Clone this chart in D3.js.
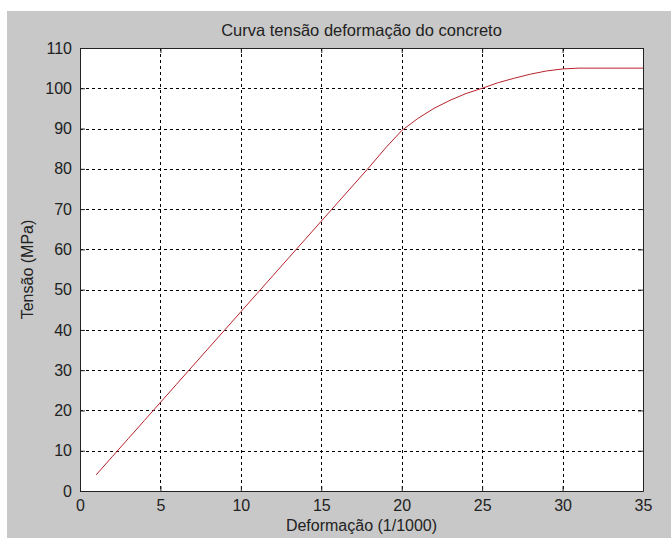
<!DOCTYPE html>
<html>
    <head>
        <meta charset="utf-8"/>
        <script src="https://d3js.org/d3.v7.min.js"></script>
        <style>
            body { margin: 0; background: #fff; }
            text { font-family: "Liberation Sans", Arial, sans-serif; fill: #222; }
        </style>
    </head>
    <body>
        <div id="chart"></div>
        <script type="text/javascript">
            // strain (1/1000) and stress (MPa)
            var deformacao = [1, 2, 3, 4, 5, 6, 7, 8, 9, 10, 11, 12, 13, 14, 15, 16, 17, 18,
                              19, 20, 21, 22, 23, 24, 25, 26, 27, 28, 29, 30, 31, 32, 33, 34, 35];
            var tensao = [4, 8.5, 13, 17.5, 22, 26.5, 31, 35.5, 40, 44.5, 49, 53.5, 58, 62.5, 67, 71.5, 76, 80.5,
                          85.2, 89.5, 92.5, 95, 97, 98.7, 100, 101.4, 102.5, 103.5, 104.3, 104.8, 105, 105, 105, 105, 105];
            var xTicks = [0, 5, 10, 15, 20, 25, 30, 35];
            var yTicks = [0, 10, 20, 30, 40, 50, 60, 70, 80, 90, 100, 110];

            var W = 671, H = 538;
            var mLeft = 80, mRight = 643, mTop = 48, mBottom = 491;
            var fs = 16;

            var svg = d3.select("#chart").append("svg")
                .attr("width", W).attr("height", H);

            // grey figure background
            svg.append("rect")
                .attr("x", 7).attr("y", 11)
                .attr("width", W - 7).attr("height", H - 11)
                .attr("fill", "#c8c8c8");

            svg.append("rect")
                .attr("x", mLeft).attr("y", mTop)
                .attr("width", mRight - mLeft).attr("height", mBottom - mTop)
                .attr("fill", "#fff");

            var x = d3.scaleLinear().domain([0, 35]).range([mLeft, mRight]);
            var y = d3.scaleLinear().domain([0, 110]).range([mBottom, mTop]);

            // grid
            var grid = svg.append("g")
                .attr("stroke", "#000")
                .attr("stroke-width", 1)
                .attr("stroke-dasharray", "3,3");
            grid.selectAll(".gx").data(xTicks.slice(1, -1)).enter().append("line")
                .attr("x1", d => Math.round(x(d)) + 0.5).attr("x2", d => Math.round(x(d)) + 0.5)
                .attr("y1", mTop).attr("y2", mBottom);
            grid.selectAll(".gy").data(yTicks.slice(1, -1)).enter().append("line")
                .attr("y1", d => Math.round(y(d)) + 0.5).attr("y2", d => Math.round(y(d)) + 0.5)
                .attr("x1", mLeft).attr("x2", mRight);

            // axes, ticks pointing inward
            svg.append("g")
                .attr("transform", "translate(0," + mBottom + ")")
                .call(d3.axisBottom(x).tickValues(xTicks).tickSizeInner(-5).tickSizeOuter(0).tickPadding(9));
            svg.append("g")
                .attr("transform", "translate(0," + mTop + ")")
                .call(d3.axisTop(x).tickValues(xTicks).tickSizeInner(-5).tickSizeOuter(0).tickFormat(""));
            svg.append("g")
                .attr("transform", "translate(" + mLeft + ",0)")
                .call(d3.axisLeft(y).tickValues(yTicks).tickSizeInner(-5).tickSizeOuter(0).tickPadding(8));
            svg.append("g")
                .attr("transform", "translate(" + mRight + ",0)")
                .call(d3.axisRight(y).tickValues(yTicks).tickSizeInner(-5).tickSizeOuter(0).tickFormat(""));

            svg.selectAll(".domain").attr("stroke", "#222");
            svg.selectAll(".tick line").attr("stroke", "#222");
            svg.selectAll(".tick text")
                .attr("font-size", fs)
                .attr("fill", "#222")
                .attr("font-family", "Liberation Sans, Arial, sans-serif");

            // curve
            var pts = deformacao.map((d, i) => [d, tensao[i]]);
            svg.append("path")
                .datum(pts)
                .attr("fill", "none")
                .attr("stroke", "#b8232b")
                .attr("stroke-width", 1)
                .attr("d", d3.line().x(d => x(d[0])).y(d => y(d[1])));

            // labels
            svg.append("text")
                .attr("x", (mLeft + mRight) / 2).attr("y", 36)
                .attr("text-anchor", "middle").attr("font-size", 16.5)
                .text("Curva tensão deformação do concreto");
            svg.append("text")
                .attr("x", (mLeft + mRight) / 2).attr("y", 531)
                .attr("text-anchor", "middle").attr("font-size", fs)
                .text("Deformação (1/1000)");
            svg.append("text")
                .attr("transform", "translate(33," + (mTop + mBottom) / 2 + ") rotate(-90)")
                .attr("text-anchor", "middle").attr("font-size", fs)
                .text("Tensão (MPa)");
        </script>
    </body>
</html>
